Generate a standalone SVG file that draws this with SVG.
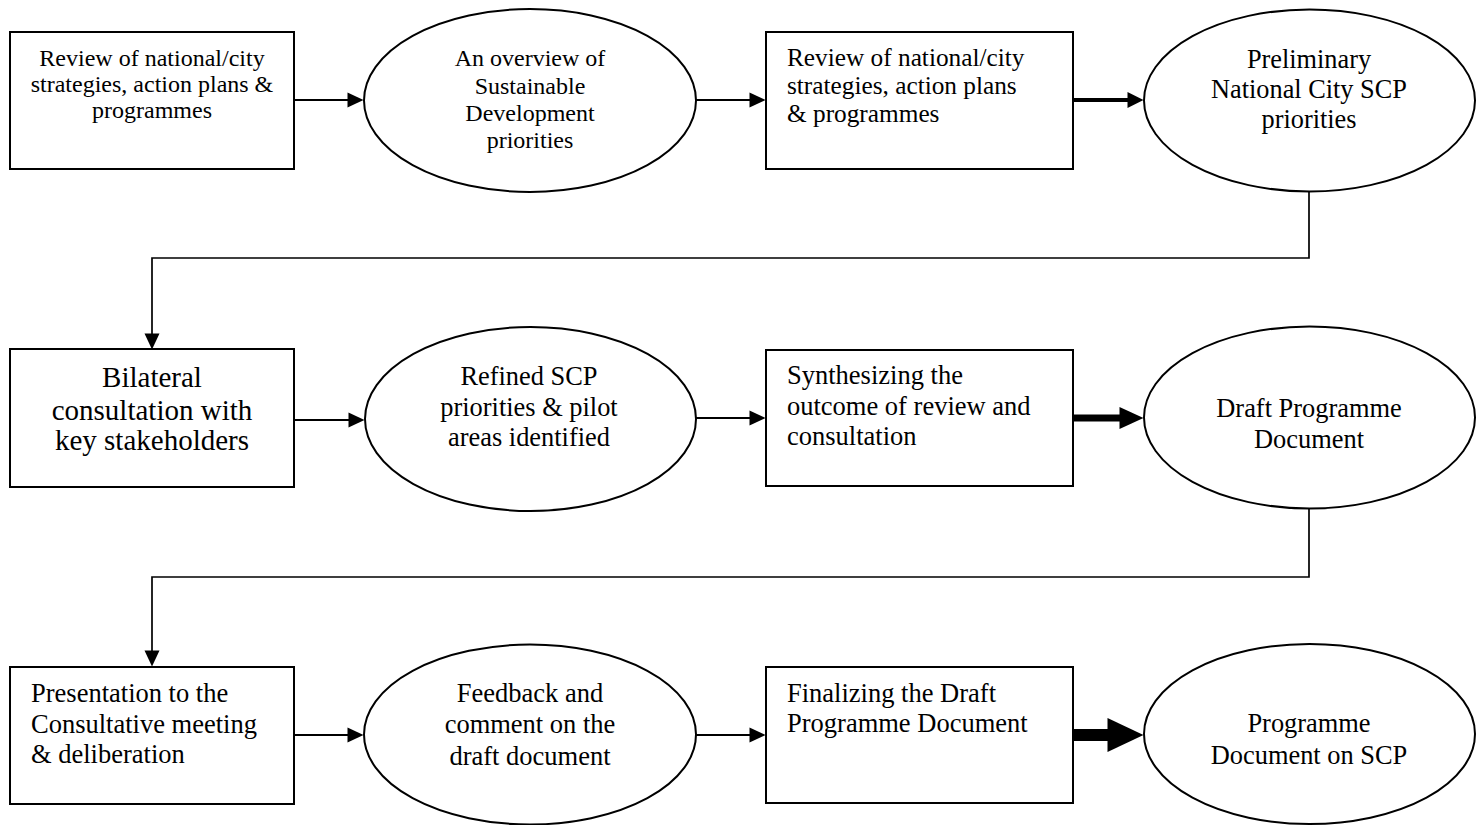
<svg xmlns="http://www.w3.org/2000/svg" width="1483" height="825" viewBox="0 0 1483 825">
<style>
.shape{fill:#fff;stroke:#000;stroke-width:2}
.t{font-family:"Liberation Serif","Times New Roman",serif;fill:#000}
.c{text-anchor:middle}
.conn{fill:none;stroke:#000}
</style>
<defs>
<marker id="a1" markerUnits="userSpaceOnUse" markerWidth="17" markerHeight="16" refX="0.5" refY="7.5" orient="auto" overflow="visible"><path d="M0,0 L16,7.5 L0,15 Z" fill="#000"/></marker>
<marker id="a2" markerUnits="userSpaceOnUse" markerWidth="17" markerHeight="17" refX="0.5" refY="8" orient="auto" overflow="visible"><path d="M0,0 L16,8 L0,16 Z" fill="#000"/></marker>
<marker id="a3" markerUnits="userSpaceOnUse" markerWidth="25" markerHeight="23" refX="0.5" refY="11" orient="auto" overflow="visible"><path d="M0,0 L24,11 L0,22 Z" fill="#000"/></marker>
<marker id="a4" markerUnits="userSpaceOnUse" markerWidth="37" markerHeight="35" refX="0.5" refY="17" orient="auto" overflow="visible"><path d="M0,0 L36,17 L0,34 Z" fill="#000"/></marker>
</defs>
<rect width="1483" height="825" fill="#fff"/>

<g id="connectors">
<path class="conn" stroke-width="2" d="M294,100 H348" marker-end="url(#a1)"/>
<path class="conn" stroke-width="2" d="M696,100 H750" marker-end="url(#a1)"/>
<path class="conn" stroke-width="4" d="M1073,100 H1128" marker-end="url(#a2)"/>
<path class="conn" stroke-width="1.7" d="M1309,192 V258 H152 V334" marker-end="url(#a1)"/>
<path class="conn" stroke-width="2" d="M294,420 H349" marker-end="url(#a1)"/>
<path class="conn" stroke-width="2" d="M696,418 H750" marker-end="url(#a1)"/>
<path class="conn" stroke-width="7" d="M1073,418 H1120" marker-end="url(#a3)"/>
<path class="conn" stroke-width="1.7" d="M1309,508 V577 H152 V651" marker-end="url(#a1)"/>
<path class="conn" stroke-width="2" d="M294,735 H348" marker-end="url(#a1)"/>
<path class="conn" stroke-width="2" d="M696,735 H750" marker-end="url(#a1)"/>
<path class="conn" stroke-width="12" d="M1073,735 H1108" marker-end="url(#a4)"/>
</g>

<g id="n1">
<rect class="shape" x="10" y="32" width="284" height="137"/>
<text class="t c" font-size="24"><tspan x="152" y="66">Review of national/city</tspan><tspan x="152" y="92">strategies, action plans &amp;</tspan><tspan x="152" y="118">programmes</tspan></text>
</g>
<g id="n2">
<ellipse class="shape" cx="530" cy="100.5" rx="166" ry="91.5"/>
<text class="t c" font-size="24"><tspan x="530" y="66">An overview of</tspan><tspan x="530" y="94">Sustainable</tspan><tspan x="530" y="121">Development</tspan><tspan x="530" y="148">priorities</tspan></text>
</g>
<g id="n3">
<rect class="shape" x="766" y="32" width="307" height="137"/>
<text class="t" font-size="25.3"><tspan x="787" y="66">Review of national/city</tspan><tspan x="787" y="94">strategies, action plans</tspan><tspan x="787" y="122">&amp; programmes</tspan></text>
</g>
<g id="n4">
<ellipse class="shape" cx="1309.5" cy="100.5" rx="165.5" ry="91"/>
<text class="t c" font-size="26.3"><tspan x="1309" y="68">Preliminary</tspan><tspan x="1309" y="98">National City SCP</tspan><tspan x="1309" y="128">priorities</tspan></text>
</g>

<g id="n5">
<rect class="shape" x="10" y="349" width="284" height="138"/>
<text class="t c" font-size="29"><tspan x="152" y="387">Bilateral</tspan><tspan x="152" y="420">consultation with</tspan><tspan x="152" y="450">key stakeholders</tspan></text>
</g>
<g id="n6">
<ellipse class="shape" cx="530.5" cy="419" rx="165.5" ry="92"/>
<text class="t c" font-size="26.4"><tspan x="529" y="385">Refined SCP</tspan><tspan x="529" y="416">priorities &amp; pilot</tspan><tspan x="529" y="446">areas identified</tspan></text>
</g>
<g id="n7">
<rect class="shape" x="766" y="350" width="307" height="136"/>
<text class="t" font-size="26.5"><tspan x="787" y="384">Synthesizing the</tspan><tspan x="787" y="415">outcome of review and</tspan><tspan x="787" y="445">consultation</tspan></text>
</g>
<g id="n8">
<ellipse class="shape" cx="1309.5" cy="417.5" rx="165.5" ry="91"/>
<text class="t c" font-size="26.4"><tspan x="1309" y="417">Draft Programme</tspan><tspan x="1309" y="448">Document</tspan></text>
</g>

<g id="n9">
<rect class="shape" x="10" y="667" width="284" height="137"/>
<text class="t" font-size="26.5"><tspan x="31" y="702">Presentation to the</tspan><tspan x="31" y="733">Consultative meeting</tspan><tspan x="31" y="763">&amp; deliberation</tspan></text>
</g>
<g id="n10">
<ellipse class="shape" cx="530" cy="734.5" rx="166" ry="90"/>
<text class="t c" font-size="26.5"><tspan x="530" y="702">Feedback and</tspan><tspan x="530" y="733">comment on the</tspan><tspan x="530" y="765">draft document</tspan></text>
</g>
<g id="n11">
<rect class="shape" x="766" y="667" width="307" height="136"/>
<text class="t" font-size="26.5"><tspan x="787" y="702">Finalizing the Draft</tspan><tspan x="787" y="732">Programme Document</tspan></text>
</g>
<g id="n12">
<ellipse class="shape" cx="1309.5" cy="734" rx="165.5" ry="90"/>
<text class="t c" font-size="26.4"><tspan x="1309" y="732">Programme</tspan><tspan x="1309" y="764">Document on SCP</tspan></text>
</g>
</svg>
